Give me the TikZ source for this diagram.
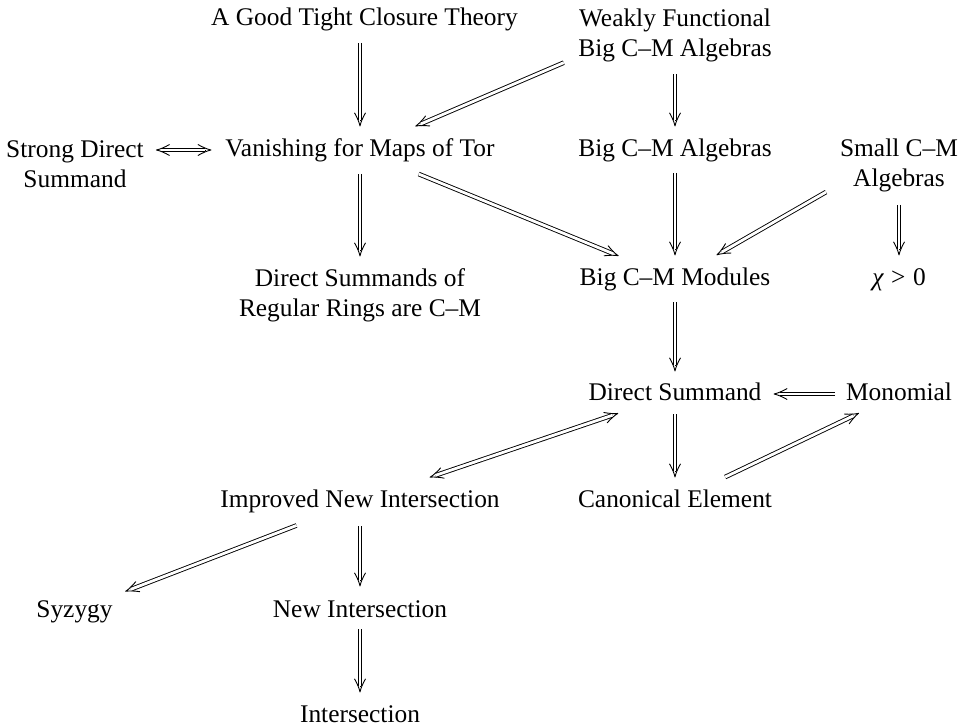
\documentclass[tikz,border=0pt]{standalone}
\usepackage{fontspec}
\setmainfont{Liberation Serif}
\usetikzlibrary{arrows.meta,calc}
\pgfdeclarearrow{
  name = Dimp,
  cache = false,
  setup code = {
    \pgfarrowssettipend{0pt}
    \pgfarrowssetlineend{-2.9pt}
    \pgfarrowssetbackend{-6.5pt}
    \pgfarrowshullpoint{0pt}{0pt}
    \pgfarrowshullpoint{-6.5pt}{2.7pt}
    \pgfarrowshullpoint{-6.5pt}{-2.7pt}
  },
  drawing code = {
    \pgfsetdash{}{0pt}
    \pgfsetroundcap
    \pgfsetroundjoin
    \pgfpathmoveto{\pgfqpoint{-6.5pt}{2.7pt}}
    \pgfpathcurveto{\pgfqpoint{-4.2pt}{1.4pt}}{\pgfqpoint{-1.8pt}{0.35pt}}{\pgfqpoint{0pt}{0pt}}
    \pgfpathcurveto{\pgfqpoint{-1.8pt}{-0.35pt}}{\pgfqpoint{-4.2pt}{-1.4pt}}{\pgfqpoint{-6.5pt}{-2.7pt}}
    \pgfusepathqstroke
  }
}
% double-line implication: from, to, start gap, end gap (pt)
\newcommand\impar[4]{%
  \pgfmathsetmacro\impEnd{#4+2.8}%
  \pgfmathsetmacro\impBack{#4+3.2}%
  \draw[tipl] ($(#2)!\impBack pt!(#1)$) -- ($(#2)!#4pt!(#1)$);
  \draw[dline, shorten <=#3pt, shorten >=\impEnd pt] (#1.center) -- (#2.center);
}
\newcommand\imparboth[4]{%
  \pgfmathsetmacro\impStart{#3+2.8}%
  \pgfmathsetmacro\impFront{#3+3.2}%
  \pgfmathsetmacro\impEnd{#4+2.8}%
  \pgfmathsetmacro\impBack{#4+3.2}%
  \draw[tipl] ($(#2)!\impBack pt!(#1)$) -- ($(#2)!#4pt!(#1)$);
  \draw[tipl] ($(#1)!\impFront pt!(#2)$) -- ($(#1)!#3pt!(#2)$);
  \draw[dline, shorten <=\impStart pt, shorten >=\impEnd pt] (#1.center) -- (#2.center);
}
\begin{document}
\begin{tikzpicture}[x=0.5pt,y=-0.5pt,
  font=\fontsize{12.7}{15}\selectfont,
  lbl/.style={inner sep=0pt, text height=0.78em, text depth=0.12em},
  lbltwo/.style={inner sep=0pt, align=center},
  dline/.style={draw=black, line width=0.45pt, double=white, double distance=1.4pt},
  tipl/.style={draw=black, line width=0.45pt, -{Dimp}}]
\useasboundingbox (0,0) rectangle (962,727);
% nodes
\node[lbl] (gtct) at (364.5,19) {A Good Tight Closure Theory};
\node[lbltwo] (wf) at (675,35.5) {Weakly Functional\\Big C–M Algebras};
\node[lbltwo] (sds) at (75,164) {Strong Direct\\Summand};
\node[lbl] (van) at (360,150) {Vanishing for Maps of Tor};
\node[lbl] (bigalg) at (675,150) {Big C–M Algebras};
\node[lbltwo] (small) at (899,165) {Small C–M\\Algebras};
\node[lbltwo] (dsreg) at (360,295.5) {Direct Summands of\\Regular Rings are C–M};
\node[lbl] (bigmod) at (675,279) {Big C–M Modules};
\node[lbl] (chi) at (899,279) {{\itshape χ}\hspace{0.3em}>\hspace{0.3em}0};
\node[lbl] (ds) at (675,394) {Direct Summand};
\node[lbl] (mono) at (899,394) {Monomial};
\node[lbl] (inew) at (360,501) {Improved New Intersection};
\node[lbl] (can) at (675,501) {Canonical Element};
\node[lbl] (syz) at (74.5,611) {Syzygy};
\node[lbl] (newint) at (360,611) {New Intersection};
\node[lbl] (int) at (360,716) {Intersection};
% connector end points off the node centres
\coordinate (gtctb) at (gtct.center -| van.center);
\coordinate (wft) at ([yshift=10.25pt]wf.center);
\coordinate (smallt) at ([yshift=7.5pt]small.center);
\coordinate (sdse) at (sds.east |- van.center);
\coordinate (vanw) at (van.west);
% connectors
\impar{gtctb}{van}{12}{12}
\impar{wft}{van}{60.5}{30.3}
\impar{wf}{bigalg}{19.25}{12}
\imparboth{sdse}{vanw}{6.1}{7}
\impar{van}{dsreg}{12}{19.75}
\impar{van}{bigmod}{31.7}{30.7}
\impar{bigalg}{bigmod}{11.5}{12}
\impar{smallt}{bigmod}{42.1}{24.2}
\impar{small}{chi}{20}{12}
\impar{bigmod}{ds}{11.5}{11.5}
\impar{mono}{ds}{32}{49.5}
\impar{ds}{can}{10}{12}
\impar{can}{mono}{27.8}{22.4}
\imparboth{inew}{ds}{37}{30.2}
\impar{inew}{syz}{34}{27.4}
\impar{inew}{newint}{12.5}{12.5}
\impar{newint}{int}{9}{12}
\end{tikzpicture}
\end{document}
